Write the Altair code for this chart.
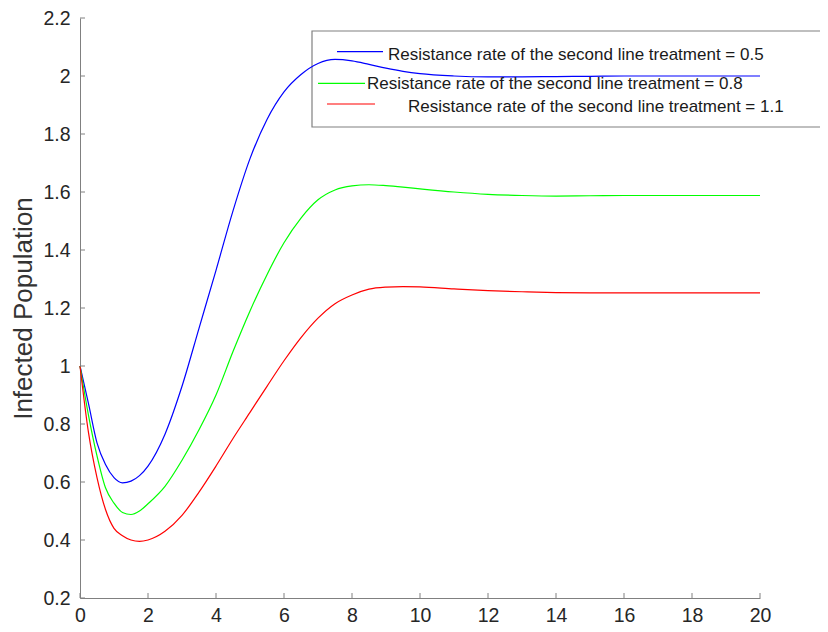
import altair as alt
import pandas as pd

# ---- data ----
t_vals = [0, 0.25, 0.5, 0.75, 1, 1.25, 1.5, 1.75, 2, 2.5, 3, 3.5, 4, 4.5, 5, 5.5,
          6, 6.5, 7, 7.5, 8, 8.5, 9, 9.5, 10, 11, 12, 13, 14, 15, 16, 17, 18, 19, 20]

blue_vals = [1.0, 0.87, 0.735, 0.66, 0.615, 0.597, 0.603, 0.622, 0.655, 0.765, 0.93, 1.13,
             1.33, 1.535, 1.715, 1.85, 1.945, 2.005, 2.043, 2.057, 2.052, 2.04, 2.027, 2.016,
             2.008, 2.0, 1.997, 1.997, 1.998, 1.999, 2.0, 2.0, 2.0, 2.0, 2.0]

green_vals = [1.0, 0.83, 0.69, 0.58, 0.527, 0.495, 0.488, 0.50, 0.525, 0.585, 0.675, 0.78,
              0.90, 1.05, 1.19, 1.315, 1.425, 1.51, 1.573, 1.607, 1.621, 1.625, 1.622, 1.617,
              1.611, 1.6, 1.592, 1.588, 1.586, 1.587, 1.588, 1.588, 1.588, 1.588, 1.588]

red_vals = [1.0, 0.77, 0.615, 0.505, 0.44, 0.415, 0.40, 0.395, 0.40, 0.43, 0.485, 0.565,
            0.655, 0.75, 0.84, 0.93, 1.018, 1.098, 1.165, 1.215, 1.245, 1.265, 1.272, 1.274,
            1.273, 1.266, 1.26, 1.256, 1.253, 1.252, 1.252, 1.252, 1.252, 1.252, 1.252]

series_names = ["Resistance rate of the second line treatment = 0.5",
                "Resistance rate of the second line treatment = 0.8",
                "Resistance rate of the second line treatment = 1.1"]
series_colors = ["#0000ff", "#00ff00", "#ff0000"]

x_ticks = [0, 2, 4, 6, 8, 10, 12, 14, 16, 18, 20]
y_ticks = [0.2, 0.4, 0.6, 0.8, 1.0, 1.2, 1.4, 1.6, 1.8, 2.0, 2.2]

W, H = 680, 580

rows = []
for name, vals in zip(series_names, [blue_vals, green_vals, red_vals]):
    for t, v in zip(t_vals, vals):
        rows.append({"t": t, "v": v, "series": name})
df = pd.DataFrame(rows)

xscale = alt.Scale(domain=[0, 20], nice=False, zero=False)
yscale = alt.Scale(domain=[0.2, 2.2], nice=False, zero=False)

axis_common = dict(domainColor="#808080", domainWidth=1, ticks=False, tickSize=0,
                   grid=False, labelFont="Liberation Sans", labelFontSize=19.5,
                   labelColor="#262626", labelFlush=False)

x_axis = alt.Axis(values=x_ticks, format="d", title=None, labelPadding=8, **axis_common)
y_axis = alt.Axis(values=y_ticks, format=".1~f", title="Infected Population",
                  titleFont="Liberation Sans", titleFontSize=26,
                  titleFontWeight="normal", titleColor="#333333",
                  titlePadding=6, labelPadding=10, **axis_common)

lines = alt.Chart(df).mark_line(strokeWidth=1.2, interpolate="monotone").encode(
    x=alt.X("t:Q", scale=xscale, axis=x_axis),
    y=alt.Y("v:Q", scale=yscale, axis=y_axis),
    color=alt.Color("series:N", scale=alt.Scale(domain=series_names, range=series_colors),
                    legend=None),
)

xt = alt.Chart(pd.DataFrame({"t": x_ticks})).mark_rule(color="#808080").encode(
    x=alt.X("t:Q", scale=xscale, axis=x_axis),
    y=alt.value(H), y2=alt.value(H - 5),
)
yt = alt.Chart(pd.DataFrame({"v": y_ticks})).mark_rule(color="#808080").encode(
    y=alt.Y("v:Q", scale=yscale, axis=y_axis),
    x=alt.value(0), x2=alt.value(5),
)

one = pd.DataFrame({"k": [0]})
box = alt.Chart(one).mark_rect(fill="white", stroke="#808080", strokeWidth=1.2).encode(
    x=alt.value(232), x2=alt.value(742), y=alt.value(13), y2=alt.value(109),
)

leg_rule_x = [(257, 303), (238, 285), (247, 295)]
leg_rule_y = [33.7, 65.3, 86]
leg_text_x = [308, 287, 328]
leg_text_y = [37, 65.5, 89]

leg_layers = []
for i in range(3):
    leg_layers.append(
        alt.Chart(one).mark_rule(color=series_colors[i], strokeWidth=1.2).encode(
            x=alt.value(leg_rule_x[i][0]), x2=alt.value(leg_rule_x[i][1]),
            y=alt.value(leg_rule_y[i]))
    )
    leg_layers.append(
        alt.Chart(one).mark_text(align="left", baseline="middle", font="Liberation Sans",
                                 fontSize=17, color="#1a1a1a").encode(
            x=alt.value(leg_text_x[i]), y=alt.value(leg_text_y[i]),
            text=alt.value(series_names[i]))
    )

chart = alt.layer(box, lines, xt, yt, *leg_layers).properties(
    width=W, height=H,
    autosize=alt.AutoSizeParams(type="none"),
    padding={"left": 72, "top": 10, "right": 60, "bottom": 26},
).configure_view(stroke=None)

chart.save("out.html", embed_options={"renderer": "svg", "actions": False})
